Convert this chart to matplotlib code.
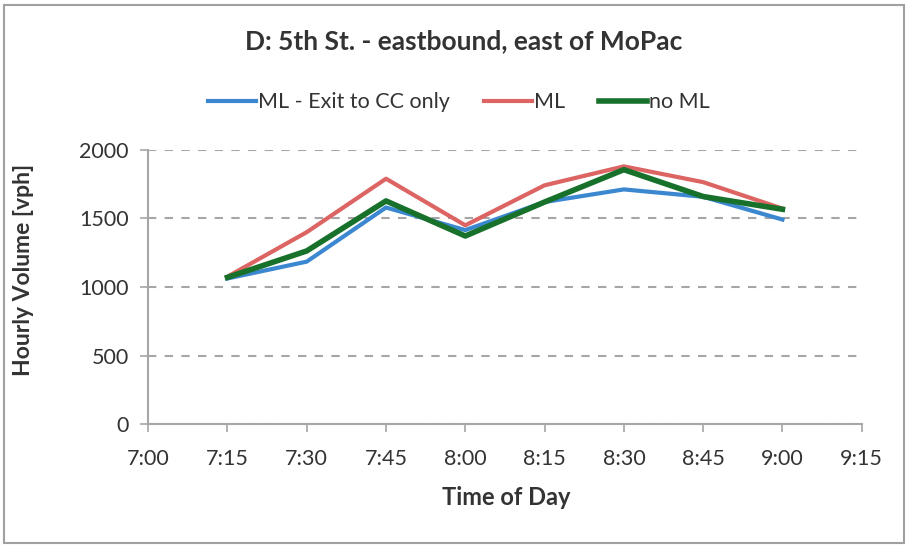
import matplotlib
matplotlib.use("Agg")
import matplotlib.pyplot as plt
from matplotlib.patches import Rectangle

plt.rcParams["font.family"] = ["Lato", "DejaVu Sans"]

times = ["7:15", "7:30", "7:45", "8:00", "8:15", "8:30", "8:45", "9:00"]
ml_exit_cc = [1062, 1185, 1580, 1415, 1620, 1712, 1658, 1492]
ml = [1075, 1400, 1790, 1450, 1742, 1880, 1765, 1572]
no_ml = [1070, 1263, 1628, 1372, 1620, 1856, 1660, 1567]
tick_labels = ["7:00", "7:15", "7:30", "7:45", "8:00", "8:15", "8:30", "8:45", "9:00", "9:15"]
y_ticks = [0, 500, 1000, 1500, 2000]


def to_minutes(t):
    h, m = t.split(":")
    return int(h) * 60 + int(m) - 420


def main():
    fig = plt.figure(figsize=(9.09, 5.46), dpi=100)
    ax = fig.add_axes([0.163, 0.2234, 0.785, 0.502])

    x = [to_minutes(t) for t in times]
    ax.plot(x, ml_exit_cc, color="#3b87d0", lw=3, label="ML - Exit to CC only")
    ax.plot(x, ml, color="#dc6462", lw=3, label="ML")
    ax.plot(x, no_ml, color="#17712b", lw=4, label="no ML")

    ax.set_xlim(0, 135)
    ax.set_ylim(0, 2000)
    ax.set_xticks([to_minutes(t) for t in tick_labels])
    ax.set_xticklabels(tick_labels)
    ax.set_yticks(y_ticks)
    ax.yaxis.grid(True, linestyle=(0, (4, 4)), color="#a6a6a6", lw=1.5)
    ax.set_axisbelow(True)

    for side in ["top", "right"]:
        ax.spines[side].set_visible(False)
    for side in ["left", "bottom"]:
        ax.spines[side].set_color("#a6a6a6")
        ax.spines[side].set_linewidth(1.5)
    ax.tick_params(colors="#a6a6a6", length=6, width=1.2, labelcolor="#333333",
                   labelsize=15.5)
    ax.tick_params(axis="x", pad=12)
    ax.tick_params(axis="y", pad=8)

    fig.text(0.51, 0.925, "D: 5th St. - eastbound, east of MoPac", ha="center",
             va="center", fontsize=19, fontweight="bold", color="#333333")
    fig.text(0.557, 0.088, "Time of Day", ha="center", va="center",
             fontsize=17, fontweight="bold", color="#333333")
    fig.text(0.026, 0.505, "Hourly Volume [vph]", ha="center", va="center",
             rotation=90, fontsize=16.5, fontweight="bold", color="#333333")

    fig.legend(loc="center", bbox_to_anchor=(0.505, 0.813), ncol=3, frameon=False,
               fontsize=15.5, handlelength=2.2, handletextpad=0.1, columnspacing=1.6,
               labelcolor="#333333")

    fig.patches.append(Rectangle((0.004, 0.006), 0.99, 0.985, transform=fig.transFigure,
                                 fill=False, edgecolor="#a0a0a0", lw=1.5))

    fig.savefig("out.png", dpi=100)


if __name__ == "__main__":
    main()
